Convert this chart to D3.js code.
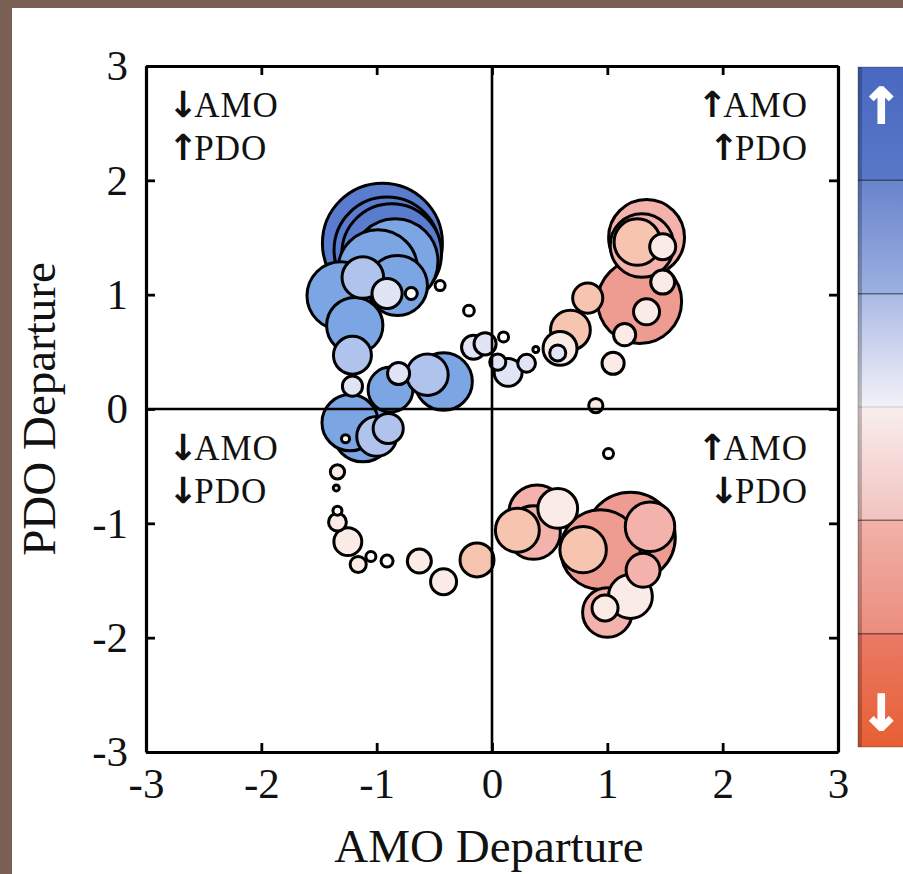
<!DOCTYPE html>
<html>
<head>
<meta charset="utf-8">
<script src="https://cdn.jsdelivr.net/npm/d3@7"></script>
<style>
  body { margin: 0; background: #7a5f55; }
  svg { display: block; }
</style>
</head>
<body>
<svg id="chart" width="903" height="874"></svg>
<script>
// AMO / PDO departures, one bubble per period
const amo = [-0.95, -0.91, -0.87, -0.84, -0.99, -0.82, -1.31, -1.12, -0.91, -0.70, -0.45, -0.20,
  -1.19, -1.21, -1.21, -0.88, -0.81, -0.42, -0.56, -1.23, -1.12, -1.00, -0.90, -1.27,
  -1.34, -1.35, -1.34, -1.34, -1.25, -1.16, -1.05, -0.91, -0.63, -0.42, -0.13,
  0.22, 0.39, 0.36, 0.57, 1.20, 0.94, 1.37, 0.79, 1.20, 1.00, 0.98, 1.31,
  1.34, 1.30, 1.26, 1.48, 1.28, 1.48, 1.34, 1.15, 0.83, 0.68, 0.59, 0.57, 1.05, 0.90, 1.01,
  -0.16, -0.06, 0.10, 0.05, 0.14, 0.30, 0.38]
const pdo = [1.45, 1.39, 1.36, 1.29, 1.22, 1.08, 0.99, 1.15, 1.01, 1.01, 1.08, 0.86,
  0.73, 0.47, 0.20, 0.17, 0.31, 0.24, 0.30, -0.12, -0.20, -0.24, -0.17, -0.26,
  -0.55, -0.69, -0.89, -0.99, -1.16, -1.36, -1.29, -1.33, -1.33, -1.51, -1.32,
  -1.06, -0.91, -1.08, -0.87, -1.12, -1.23, -1.03, -1.23, -1.64, -1.78, -1.74, -1.41,
  1.50, 1.43, 1.46, 1.42, 0.94, 1.11, 0.85, 0.65, 0.97, 0.69, 0.53, 0.49, 0.40, 0.03, -0.39,
  0.54, 0.57, 0.63, 0.41, 0.32, 0.40, 0.52]
// bubble magnitude (area-like)
const mag = [100, 78, 69, 51, 44, 25, 32, 12, 6.3, 1, 0.7, 0.8,
  22, 10, 2.8, 14, 3.4, 23, 12, 22, 25, 11, 6.3, 0.45,
  1.4, 0.25, 0.56, 2.2, 5.4, 1.8, 0.7, 1, 4, 4.7, 8,
  13.4, 22, 20, 11, 56, 44, 17, 15, 13.4, 17, 4.7, 8,
  40, 28, 15, 4.7, 49, 4, 4.7, 3.4, 6.3, 11, 8, 1.8, 3.4, 1.4, 0.7,
  4, 3.4, 0.7, 1.8, 5.4, 2.2, 0.25]
// colour class: 4 = strongest blue ... -4 = strongest red
const tone = [4, 4, 4, 3, 3, 3, 3, 2, 1, 0, 0, 0,
  3, 2, 1, 3, 1, 3, 2, 3, 3, 2, 2, 0,
  -1, -1, 0, -1, -1, -1, 0, 0, -1, -1, -2,
  -2, -3, -3, -1, -4, -4, -3, -2, -1, -3, -1, -3,
  -3, -3, -2, -1, -4, -1, -1, -1, -2, -2, -1, 1, -1, -1, 0,
  1, 1, 0, 1, 1, 1, 0]

const toneLevels = [4, 3, 2, 1, 0, -1, -2, -3, -4]
const toneColors = ['#5a7ccf', '#7ba5e3', '#b0c3ec', '#e1e4f5', '#ffffff',
  '#fbebe6', '#f7c4b0', '#f3b2ac', '#ee9c91']

const xTicks = [-3, -2, -1, 0, 1, 2, 3]
const yTicks = [-3, -2, -1, 0, 1, 2, 3]

// quadrant labels (left-top, right-top, left-bottom, right-bottom)
const quadAmo = ['↓', '↑', '↓', '↑']
const quadPdo = ['↑', '↑', '↓', '↓']

// colour bar
const barOffsets = [0, 0.166, 0.167, 0.333, 0.334, 0.5, 0.501, 0.666, 0.667, 0.833, 0.834, 1]
const barColors = ['#4868c0', '#5a78c7', '#6884cc', '#9cb0e0', '#aab9e4', '#f2f2f8',
  '#f8eeee', '#f2c3bf', '#f0b2a9', '#eb8d7d', '#e97a66', '#e75f33']
const barSegments = [0, 1, 2, 3, 4, 5, 6]

const serif = 'Liberation Serif, Times New Roman, serif'
const svg = d3.select('#chart')

// frame
svg.append('rect').attr('width', 903).attr('height', 874).attr('fill', '#7a5f55')
svg.append('rect').attr('x', 12).attr('y', 8).attr('width', 900).attr('height', 870).attr('fill', '#fff')

const x = d3.scaleLinear().domain([-3, 3]).range([146, 838])
const y = d3.scaleLinear().domain([-3, 3]).range([752, 66])
const r = d3.scaleSqrt().domain([0, 100]).range([0, 60])
const color = d3.scaleOrdinal().domain(toneLevels).range(toneColors)

const data = amo.map((d, i) => ({amo: d, pdo: pdo[i], mag: mag[i], tone: tone[i]}))
  .sort((a, b) => b.mag - a.mag) //big ones first so small ones stay visible

//Bubbles
svg.append('g')
  .selectAll('circle')
  .data(data)
  .enter()
  .append('circle')
  .attr('cx', d => x(d.amo))
  .attr('cy', d => y(d.pdo))
  .attr('r', d => r(d.mag))
  .attr('fill', d => color(d.tone))
  .attr('stroke', '#000')
  .attr('stroke-width', 3)

//Zero lines
svg.append('line')
  .attr('x1', x(0)).attr('x2', x(0))
  .attr('y1', y(3)).attr('y2', y(-3))
  .attr('stroke', '#000').attr('stroke-width', 2.6)
svg.append('line')
  .attr('x1', x(-3)).attr('x2', x(3))
  .attr('y1', y(0)).attr('y2', y(0))
  .attr('stroke', '#000').attr('stroke-width', 2.6)

//Axes, ticks pointing inwards on all four sides
function styleAxis(g) {
  g.attr('font-family', serif).attr('font-size', 43)
  g.select('.domain').attr('stroke-width', 3.2)
  g.selectAll('.tick line').attr('stroke-width', 2.8)
  g.selectAll('.tick text').attr('fill', '#111')
}
const fmt = d => String(d)

svg.append('g')
  .attr('transform', 'translate(0,' + y(-3) + ')')
  .call(d3.axisBottom(x).tickValues(xTicks).tickSize(-9).tickSizeOuter(0).tickPadding(15).tickFormat(fmt))
  .call(styleAxis)
svg.append('g')
  .attr('transform', 'translate(0,' + y(3) + ')')
  .call(d3.axisTop(x).tickValues(xTicks).tickSize(-9).tickSizeOuter(0).tickFormat(''))
  .call(styleAxis)
svg.append('g')
  .attr('transform', 'translate(' + x(-3) + ',0)')
  .call(d3.axisLeft(y).tickValues(yTicks).tickSize(-9).tickSizeOuter(0).tickPadding(18).tickFormat(fmt))
  .call(styleAxis)
svg.append('g')
  .attr('transform', 'translate(' + x(3) + ',0)')
  .call(d3.axisRight(y).tickValues(yTicks).tickSize(-9).tickSizeOuter(0).tickFormat(''))
  .call(styleAxis)

//Axis titles
svg.append('text')
  .attr('x', x(0) - 3)
  .attr('y', 862)
  .attr('text-anchor', 'middle')
  .attr('font-family', serif)
  .attr('font-size', 47)
  .attr('fill', '#111')
  .text('AMO Departure')

svg.append('text')
  .attr('transform', 'translate(55,' + y(0) + ') rotate(-90)')
  .attr('text-anchor', 'middle')
  .attr('font-family', serif)
  .attr('font-size', 47)
  .attr('fill', '#111')
  .text('PDO Departure')

//Quadrant labels
const quads = quadAmo.map((a, i) => ({
  amo: a,
  pdo: quadPdo[i],
  right: i % 2 == 1,
  top: i < 2
}))
quads.forEach(q => {
  let px = q.right ? x(3) - 30 : x(-3) + 22
  let py = q.top ? y(3) : y(0)
  let rows = [[q.amo, 'AMO', 51], [q.pdo, 'PDO', 94]]
  rows.forEach(row => {
    let t = svg.append('text')
      .attr('x', px)
      .attr('y', py + row[2])
      .attr('text-anchor', q.right ? 'end' : 'start')
      .attr('font-family', serif)
      .attr('font-size', 35)
      .attr('letter-spacing', 1)
      .attr('fill', '#111')
    t.append('tspan')
      .attr('font-family', 'DejaVu Sans')
      .attr('font-weight', 'bold')
      .attr('font-size', 36)
      .attr('letter-spacing', -4)
      .text(row[0])
    t.append('tspan').text(row[1])
  })
})

//Colour bar
const barY = d3.scaleLinear().domain([0, 6]).range([67, 747])
const defs = svg.append('defs')
const grad = defs.append('linearGradient')
  .attr('id', 'bar-grad')
  .attr('x1', 0).attr('y1', 0).attr('x2', 0).attr('y2', 1)
grad.selectAll('stop')
  .data(barOffsets)
  .enter()
  .append('stop')
  .attr('offset', d => d)
  .attr('stop-color', (d, i) => barColors[i])

const bar = svg.append('g')
bar.append('rect')
  .attr('x', 858).attr('y', barY(0))
  .attr('width', 60).attr('height', barY(6) - barY(0))
  .attr('fill', 'url(#bar-grad)')
bar.append('rect')
  .attr('x', 858).attr('y', barY(0))
  .attr('width', 4).attr('height', barY(6) - barY(0))
  .attr('fill', '#000').attr('opacity', 0.22)
bar.selectAll('.seg')
  .data(barSegments.slice(1, 6))
  .enter()
  .append('line')
  .attr('class', 'seg')
  .attr('x1', 858).attr('x2', 910)
  .attr('y1', d => barY(d)).attr('y2', d => barY(d))
  .attr('stroke', '#000')
  .attr('stroke-opacity', d => d == 3 ? 0.12 : 0.45)
  .attr('stroke-width', 1.5)
bar.append('rect')
  .attr('x', 858).attr('y', barY(0))
  .attr('width', 60).attr('height', barY(6) - barY(0))
  .attr('fill', 'none').attr('stroke', '#000').attr('stroke-opacity', 0.25)

bar.append('text')
  .attr('x', 881).attr('y', 123)
  .attr('text-anchor', 'middle')
  .attr('font-family', 'DejaVu Sans').attr('font-weight', 'bold')
  .attr('font-size', 49).attr('fill', '#fff')
  .attr('stroke', '#fff').attr('stroke-width', 1.8)
  .text('↑')
bar.append('text')
  .attr('x', 881).attr('y', 730)
  .attr('text-anchor', 'middle')
  .attr('font-family', 'DejaVu Sans').attr('font-weight', 'bold')
  .attr('font-size', 49).attr('fill', '#fff')
  .attr('stroke', '#fff').attr('stroke-width', 1.8)
  .text('↓')
</script>
</body>
</html>
